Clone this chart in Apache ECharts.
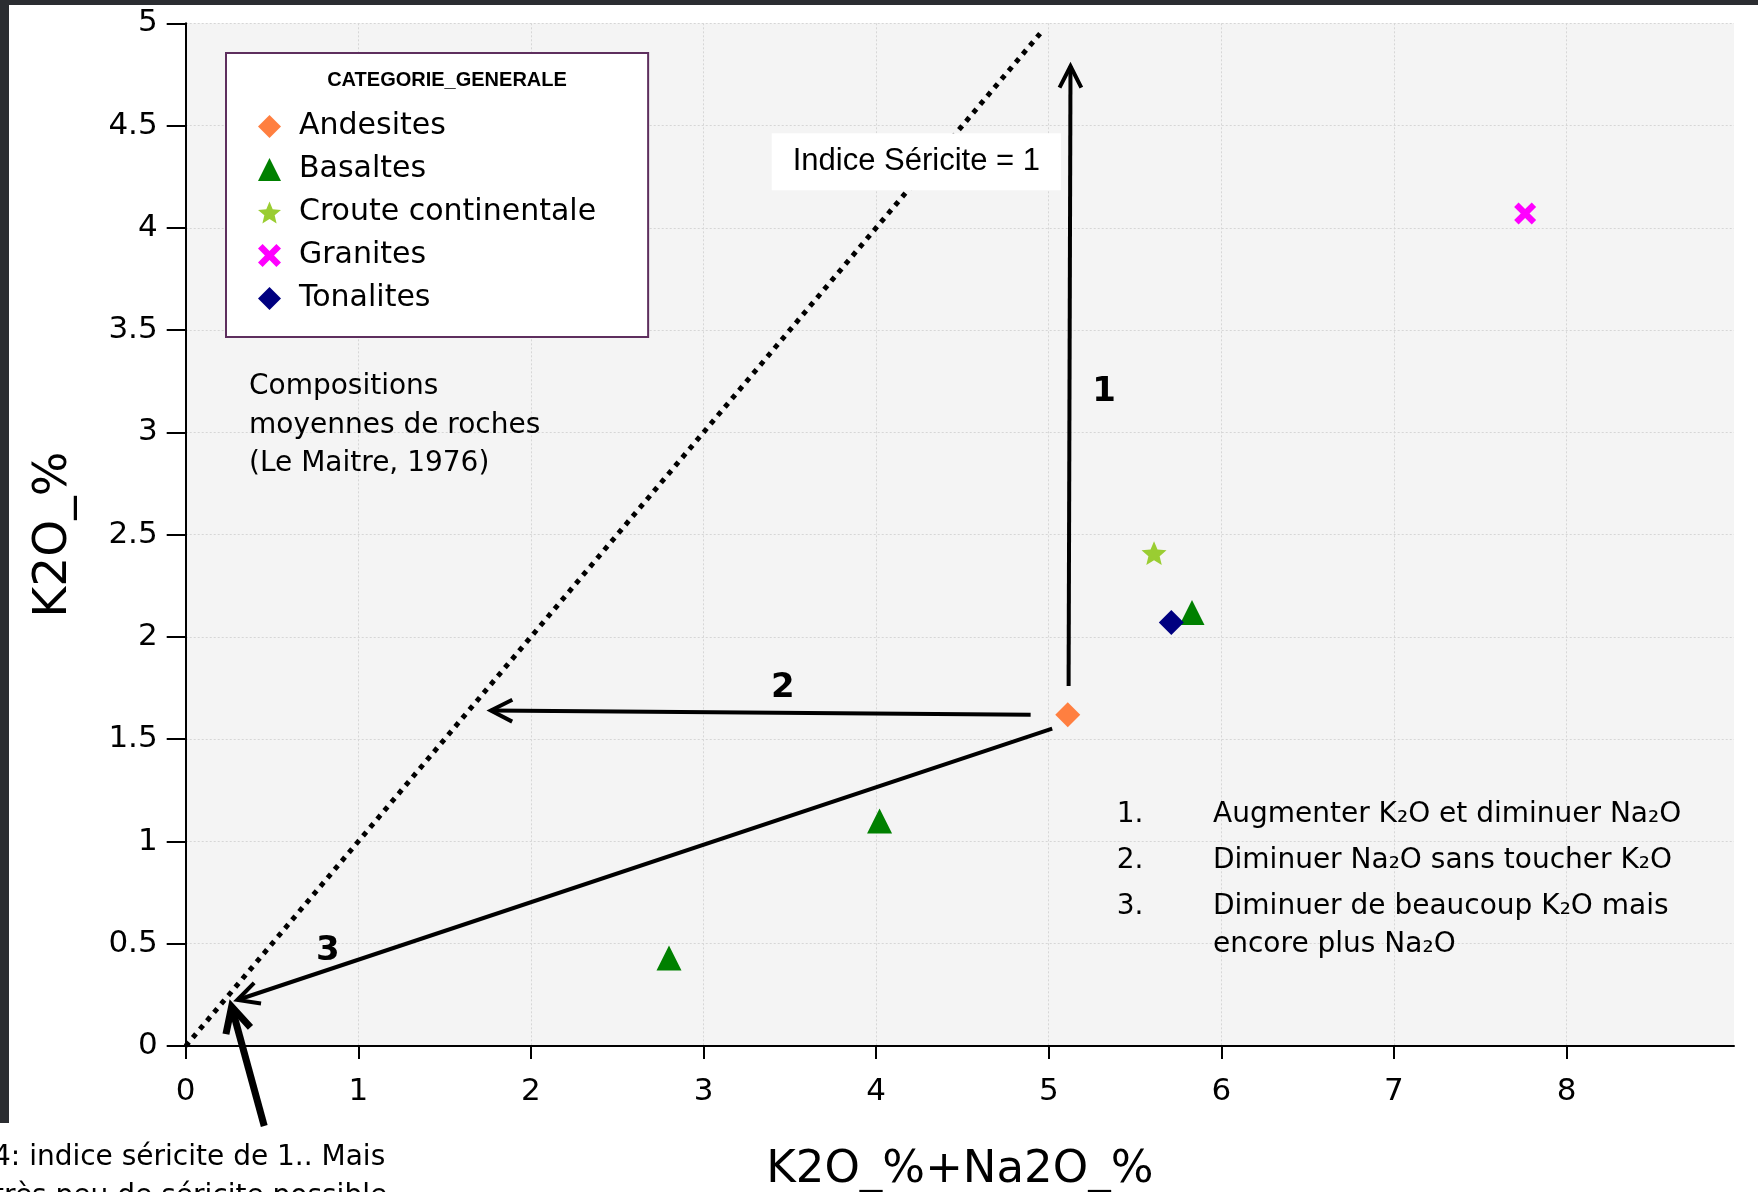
<!DOCTYPE html>
<html>
<head>
<meta charset="utf-8">
<script src="https://cdn.jsdelivr.net/npm/echarts@6/dist/echarts.min.js"></script>
<style>
  html, body { margin: 0; padding: 0; background: #fff; overflow: hidden; }
  #chart { width: 1758px; height: 1192px; }
</style>
</head>
<body>
<div id="chart"></div>
<script>
// tick values of the x axis
var xTicks = [0, 1, 2, 3, 4, 5, 6, 7, 8];

// average rock compositions (Le Maitre, 1976): [K2O+Na2O, K2O]
var andesites = [[5.11, 1.62]];
var basaltes = [[2.80, 0.43], [4.02, 1.10], [5.83, 2.12]];
var crouteContinentale = [[5.61, 2.41]];
var granites = [[7.76, 4.07]];
var tonalites = [[5.71, 2.07]];
var legendNames = ['Andesites', 'Basaltes', 'Croute continentale', 'Granites', 'Tonalites'];

// indice sericite = 1  (K2O == K2O + Na2O)
var sericiteLine = [[0, 0], [4.95, 4.95]];

// arrows, [x tail, y tail, x tip, y tip]
var arrows = [
  [5.115, 1.76, 5.126, 4.79],
  [4.895, 1.62, 1.768, 1.64],
  [5.02, 1.552, 0.299, 0.225]
];
var pointer = [[0.455, -0.391, 0.266, 0.192]];
var arrowLabels = [['1', 5.32, 3.195], ['2', 3.46, 1.75], ['3', 0.824, 0.462]];
var indiceLabel = [['Indice Séricite = 1', 4.233, 4.323]];

// notes on the right
var noteNumbers = ['1.', '2.', '3.', ''];
var noteLines = [
  'Augmenter K₂O et diminuer Na₂O',
  'Diminuer Na₂O sans toucher K₂O',
  'Diminuer de beaucoup K₂O mais',
  'encore plus Na₂O'
];
var noteY = [814.7, 861, 906.3, 944.6];

var FONT = 'DejaVu Sans';
var starPath = 'path://M50 0 L63.23 31.8 L97.55 34.55 L71.4 56.95 L79.39 90.45 L50 72.5 L20.61 90.45 L28.6 56.95 L2.45 34.55 L36.77 31.8 Z';
var crossPath = 'path://M0 20 L20 0 L50 30 L80 0 L100 20 L70 50 L100 80 L80 100 L50 70 L20 100 L0 80 L30 50 Z';

function arrowRenderer(lineWidth, headLen) {
  return function (params, api) {
    var p0 = api.coord([api.value(0), api.value(1)]);
    var p1 = api.coord([api.value(2), api.value(3)]);
    var ang = Math.atan2(p0[1] - p1[1], p0[0] - p1[0]);
    var spread = 27 * Math.PI / 180;
    var h1 = [p1[0] + headLen * Math.cos(ang + spread), p1[1] + headLen * Math.sin(ang + spread)];
    var h2 = [p1[0] + headLen * Math.cos(ang - spread), p1[1] + headLen * Math.sin(ang - spread)];
    return {
      type: 'group',
      children: [
        { type: 'line', shape: { x1: p0[0], y1: p0[1], x2: p1[0], y2: p1[1] },
          style: { stroke: '#000', lineWidth: lineWidth } },
        { type: 'polyline', shape: { points: [h1, p1, h2] },
          style: { stroke: '#000', fill: null, lineWidth: lineWidth, lineJoin: 'miter' } }
      ]
    };
  };
}

function pointSeries(name, data, symbol, size, color) {
  return {
    name: name, type: 'scatter', data: data, symbol: symbol, symbolSize: size,
    symbolKeepAspect: true, itemStyle: { color: color, opacity: 1 }, z: 4
  };
}

function noteText(x, y, text) {
  return {
    type: 'text', x: x, y: y, z: 50,
    style: { text: text, fontFamily: FONT, fontSize: 28, fill: '#000', align: 'left', verticalAlign: 'middle' }
  };
}

var graphics = [
  { type: 'rect', x: 0, y: 0, shape: { width: 1758, height: 5 }, style: { fill: '#2b2d31' }, z: 100 },
  { type: 'rect', x: 0, y: 0, shape: { width: 9, height: 1123 }, style: { fill: '#2b2d31' }, z: 100 },
  { type: 'text', x: 447, y: 80, z: 100,
    style: { text: 'CATEGORIE_GENERALE', fontFamily: 'Liberation Sans', fontWeight: 'bold', fontSize: 20,
      fill: '#000', align: 'center', verticalAlign: 'middle' } },
  { type: 'text', x: 249, y: 368, z: 50,
    style: { text: 'Compositions\nmoyennes de roches\n(Le Maitre, 1976)', fontFamily: FONT, fontSize: 28,
      lineHeight: 38.4, fill: '#000', align: 'left', verticalAlign: 'top' } },
  { type: 'text', x: -7, y: 1139, z: 50,
    style: { text: '4: indice séricite de 1.. Mais\ntrès peu de séricite possible', fontFamily: FONT, fontSize: 28,
      lineHeight: 38.4, fill: '#000', align: 'left', verticalAlign: 'top' } }
];
noteLines.forEach(function (t, i) {
  if (noteNumbers[i]) graphics.push(noteText(1116.7, noteY[i], noteNumbers[i]));
  graphics.push(noteText(1213, noteY[i], t));
});

var chart = echarts.init(document.getElementById('chart'));
chart.setOption({
  animation: false,
  backgroundColor: '#fff',
  grid: {
    left: 185.7, right: 24, top: 23.3, bottom: 146,
    show: true, backgroundColor: '#f4f4f4', borderWidth: 0,
    outerBoundsMode: 'none'
  },
  legend: {
    orient: 'vertical', left: 226, top: 53,
    data: legendNames,
    selectedMode: false,
    backgroundColor: '#fff', borderColor: '#5e2f5e', borderWidth: 2,
    padding: [57, 52, 22, 32],
    itemWidth: 23, itemHeight: 23, itemGap: 10,
    textStyle: { fontFamily: FONT, fontSize: 30, lineHeight: 33, color: '#000', padding: [0, 0, 0, 13] }
  },
  xAxis: {
    type: 'value', min: 0, max: 8.97, interval: 1,
    axisLine: { onZero: false, lineStyle: { color: '#000', width: 2 } },
    axisTick: { length: 13, customValues: xTicks, lineStyle: { color: '#000', width: 2 } },
    axisLabel: { customValues: xTicks, margin: 30, fontFamily: FONT, fontSize: 31, color: '#000' },
    splitLine: { show: true, lineStyle: { color: '#d6d6d6', type: [2, 2], width: 1 } },
    name: 'K2O_%+Na2O_%', nameLocation: 'middle', nameGap: 102,
    nameTextStyle: { fontFamily: FONT, fontSize: 45, color: '#000' }
  },
  yAxis: {
    type: 'value', min: 0, max: 5, interval: 0.5,
    axisLine: { onZero: false, lineStyle: { color: '#000', width: 2 } },
    axisTick: { length: 19, lineStyle: { color: '#000', width: 2 } },
    axisLabel: { margin: 28, fontFamily: FONT, fontSize: 31, color: '#000' },
    splitLine: { show: true, lineStyle: { color: '#d6d6d6', type: [2, 2], width: 1 } },
    name: 'K2O_%', nameLocation: 'middle', nameGap: 108,
    nameTextStyle: { fontFamily: FONT, fontSize: 47, color: '#000' }
  },
  graphic: graphics,
  series: [
    {
      type: 'line', data: sericiteLine, showSymbol: false, silent: true, z: 1,
      lineStyle: { color: '#000', width: 5, type: [5, 6], cap: 'butt' }
    },
    { type: 'custom', data: arrows, encode: { x: [0, 2], y: [1, 3] }, clip: false, silent: true, z: 3,
      renderItem: arrowRenderer(4, 24) },
    { type: 'custom', data: pointer, encode: { x: [0, 2], y: [1, 3] }, clip: false, silent: true, z: 3,
      renderItem: arrowRenderer(7, 28) },
    pointSeries('Andesites', andesites, 'diamond', 25, '#ff7f40'),
    pointSeries('Basaltes', basaltes, 'triangle', 25, '#008000'),
    pointSeries('Croute continentale', crouteContinentale, starPath, 25, '#9acd32'),
    pointSeries('Granites', granites, crossPath, 22, '#ff00ff'),
    pointSeries('Tonalites', tonalites, 'diamond', 25, '#000080'),
    {
      type: 'scatter', silent: true, z: 6, symbolSize: 1, itemStyle: { color: 'rgba(0,0,0,0)' },
      data: arrowLabels.map(function (d) { return { name: d[0], value: [d[1], d[2]] }; }),
      label: { show: true, position: 'inside', formatter: '{b}', fontFamily: FONT, fontWeight: 'bold',
        fontSize: 34, color: '#000', opacity: 1 }
    },
    {
      type: 'scatter', silent: true, z: 6, symbolSize: 1, itemStyle: { color: 'rgba(0,0,0,0)' },
      data: indiceLabel.map(function (d) { return { name: d[0], value: [d[1], d[2]] }; }),
      label: { show: true, position: 'inside', formatter: '{b}', fontFamily: 'Liberation Sans',
        fontSize: 31, lineHeight: 32, color: '#000', opacity: 1, backgroundColor: '#fff', padding: [12, 21, 13, 21] }
    }
  ]
});
</script>
</body>
</html>
